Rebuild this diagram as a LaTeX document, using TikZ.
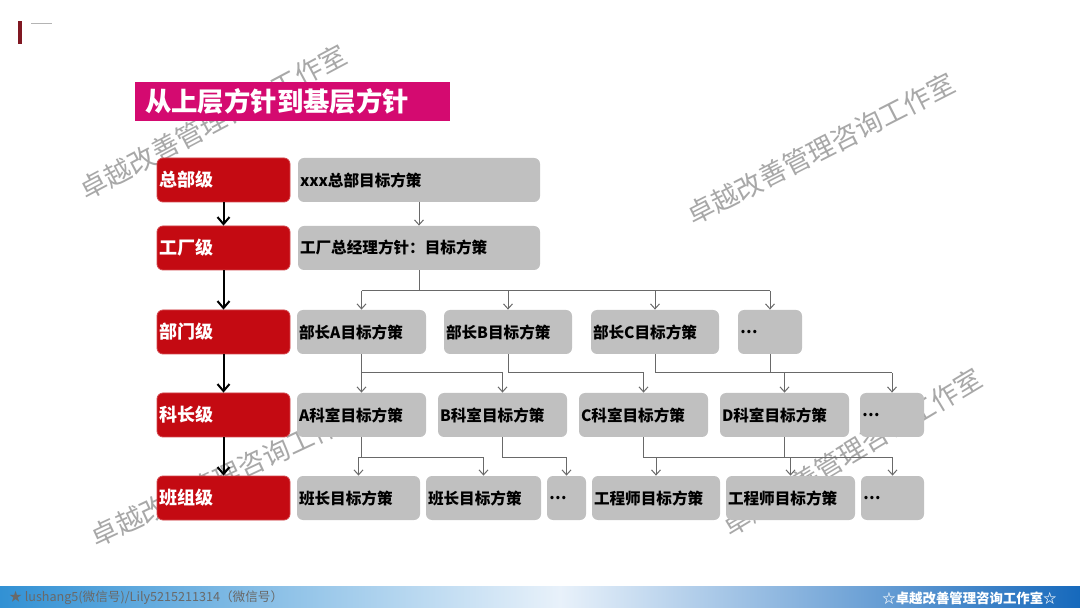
\documentclass[tikz,border=0pt]{standalone}
\usepackage{fontspec}
\setmainfont{Noto Sans CJK SC}
\usetikzlibrary{arrows.meta}
\definecolor{lvlred}{RGB}{196,10,18}
\definecolor{goalgray}{RGB}{192,192,192}
\definecolor{titlemag}{RGB}{212,10,112}
\definecolor{linegray}{RGB}{105,105,105}
\definecolor{markgray}{RGB}{168,168,168}
\definecolor{bandleft}{RGB}{50,145,212}
\definecolor{bandmid}{RGB}{232,241,250}
\definecolor{bandright}{RGB}{22,105,188}
\definecolor{darkred}{RGB}{128,24,34}

\begin{document}
\begin{tikzpicture}[x=0.5pt,y=-0.5pt,
  lvlbox/.style={fill=lvlred, draw=lvlred!75!white, line width=0.4pt, rounded corners=3pt,
    minimum height=22pt, text width=64.5pt, inner xsep=1pt, align=left, text=white,
    font=\bfseries\fontsize{9}{10}\selectfont},
  goalbox/.style={fill=goalgray, rounded corners=3pt, minimum height=22pt, text width=#1,
    inner xsep=1pt, align=left, font=\bfseries\fontsize{7.8}{9}\selectfont},
  gline/.style={draw=linegray, line width=0.5pt},
  garrow/.style={gline, -{Straight Barb[length=2.5pt,width=4.5pt]}},
  larrow/.style={black, line width=1pt, -{Straight Barb[length=3.5pt,width=6pt]}},
  wmark/.style={text=markgray, font=\fontsize{13.5}{14}\selectfont, inner sep=0pt}]
  \fill[white] (0,0) rectangle (1080,608);
  \useasboundingbox (0,0) rectangle (1080,608);

  \node[wmark, rotate=28] (wm1) at (213,122) {卓越改善管理咨询工作室};
  \node[wmark, rotate=27] (wm2) at (821,149) {卓越改善管理咨询工作室};
  \node[wmark, rotate=25] (wm3) at (227,475) {卓越改善管理咨询工作室};
  \node[wmark, rotate=31] (wm4) at (852,452) {卓越改善管理咨询工作室};

  \fill[darkred] (18,21) rectangle (22,44);
  \draw[linegray!50, line width=0.4pt] (31,23) -- (52,23);

  \node[fill=titlemag, minimum height=19.5pt, text width=147.5pt, inner xsep=5pt, align=left,
    text=white, font=\bfseries\fontsize{13.2}{15}\selectfont] (title) at (292.5,101.5) {从上层方针到基层方针};

  \node[lvlbox] (r1) at (223.5,180) {总部级};
  \node[lvlbox] (r2) at (223.5,248) {工厂级};
  \node[lvlbox] (r3) at (223.5,332) {部门级};
  \node[lvlbox] (r4) at (223.5,415) {科长级};
  \node[lvlbox] (r5) at (223.5,498) {班组级};

  \node[goalbox=119pt] (g1) at (419,180) {xxx总部目标方策};
  \node[goalbox=119pt] (g2) at (419,248) {工厂总经理方针：目标方策};

  \node[goalbox=62.5pt] (b31) at (361.5,332) {部长A目标方策};
  \node[goalbox=62pt] (b32) at (508,332) {部长B目标方策};
  \node[goalbox=62pt] (b33) at (655,332) {部长C目标方策};
  \node[goalbox=30pt] (b34) at (770,332) {…};

  \node[goalbox=62.5pt] (b41) at (361.5,415) {A科室目标方策};
  \node[goalbox=62.5pt] (b42) at (502.5,415) {B科室目标方策};
  \node[goalbox=62.5pt] (b43) at (643.5,415) {C科室目标方策};
  \node[goalbox=62.5pt] (b44) at (784.5,415) {D科室目标方策};
  \node[goalbox=30pt] (b45) at (892,415) {…};

  \node[goalbox=59.5pt] (b51) at (358.5,498) {班长目标方策};
  \node[goalbox=55.5pt] (b52) at (483.5,498) {班长目标方策};
  \node[goalbox=17.5pt] (b53) at (566.5,498) {…};
  \node[goalbox=62pt] (b54) at (656,498) {工程师目标方策};
  \node[goalbox=62.5pt] (b55) at (790.5,498) {工程师目标方策};
  \node[goalbox=29.5pt] (b56) at (892.5,498) {…};

  \draw[larrow] (r1) -- (r2);
  \draw[larrow] (r2) -- (r3);
  \draw[larrow] (r3) -- (r4);
  \draw[larrow] (r4) -- (r5);

  \draw[garrow] (g1) -- (g2);

  \coordinate (y2) at (0,291);
  \coordinate (y3) at (0,373);
  \coordinate (y4) at (0,457);

  \draw[gline] (g2.south) -- (g2.south |- y2) (b31.north |- y2) -- (b34.north |- y2);
  \foreach \n in {b31,b32,b33,b34}
    \draw[garrow] (\n.north |- y2) -- (\n.north);

  \draw[gline] (b31.south) |- (b42.north |- y3);
  \draw[gline] (b32.south) |- (b43.north |- y3);
  \draw[gline] (b33.south) |- (b45.north |- y3);
  \draw[gline] (b34.south) -- (b34.south |- y3);
  \foreach \n in {b41,b42,b43,b44,b45}
    \draw[garrow] (\n.north |- y3) -- (\n.north);

  \draw[gline] (b41.south) -- (b41.south |- y4) (b51.north |- y4) -- (b52.north |- y4);
  \draw[gline] (b42.south) |- (b53.north |- y4);
  \draw[gline] (b43.south) |- (b56.north |- y4);
  \draw[gline] (b44.south) -- (b44.south |- y4);
  \foreach \n in {b51,b52,b53,b54,b55,b56}
    \draw[garrow] (\n.north |- y4) -- (\n.north);

  \shade[left color=bandleft, right color=bandmid] (0,586) rectangle (560,608);
  \shade[left color=bandmid, right color=bandright] (560,586) rectangle (1080,608);
  \node[anchor=west, text=linegray, font=\fontsize{6.3}{7}\selectfont, inner sep=0pt] (wechat)
    at (9,598) {★ lushang5(微信号)/Lily5215211314（微信号）};
  \node[anchor=east, text=white, font=\bfseries\fontsize{6.7}{7}\selectfont, inner sep=0pt] (studio)
    at (1057,598) {☆卓越改善管理咨询工作室☆};
\end{tikzpicture}
\end{document}
